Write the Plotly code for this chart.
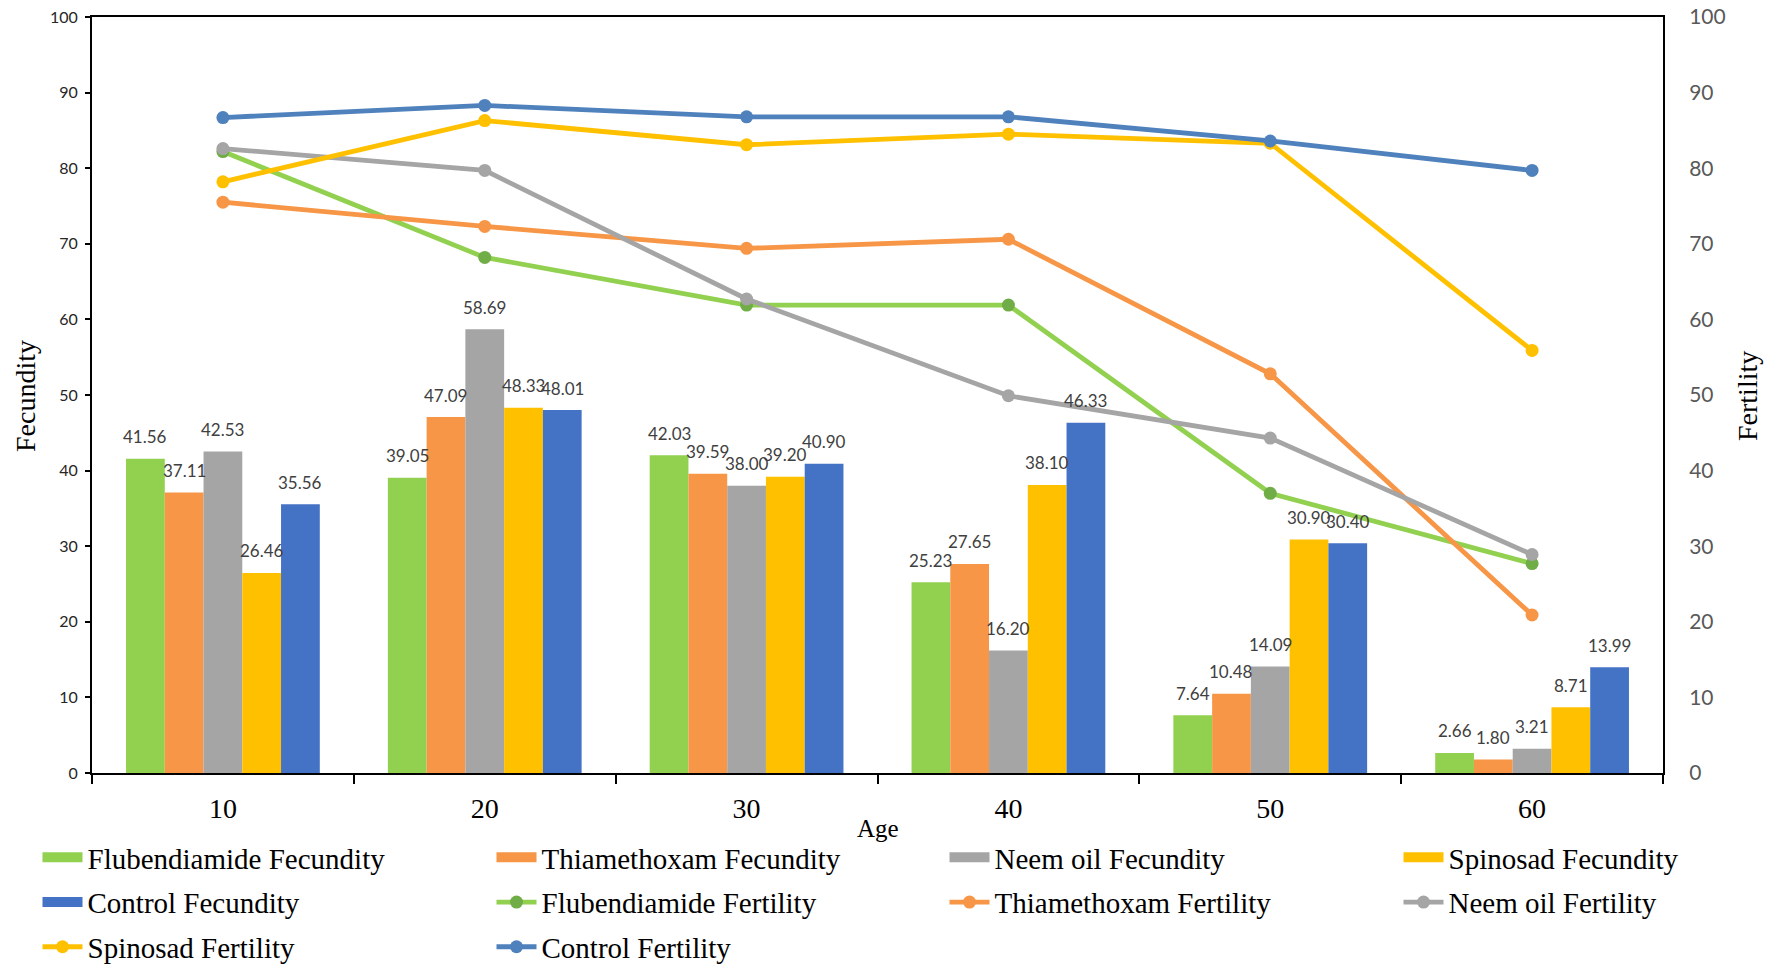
import plotly.graph_objects as go

# Ages (days) on the category axis
ages = ["10", "20", "30", "40", "50", "60"]

# Fecundity (bars, left axis)
flubendiamide_fecundity = [41.56, 39.05, 42.03, 25.23, 7.64, 2.66]
thiamethoxam_fecundity = [37.11, 47.09, 39.59, 27.65, 10.48, 1.80]
neem_oil_fecundity = [42.53, 58.69, 38.00, 16.20, 14.09, 3.21]
spinosad_fecundity = [26.46, 48.33, 39.20, 38.10, 30.90, 8.71]
control_fecundity = [35.56, 48.01, 40.90, 46.33, 30.40, 13.99]

# Fertility (lines, right axis)
flubendiamide_fertility = [82.2, 68.2, 61.9, 61.9, 37.0, 27.7]
thiamethoxam_fertility = [75.5, 72.3, 69.4, 70.6, 52.8, 20.9]
neem_oil_fertility = [82.6, 79.7, 62.7, 49.9, 44.3, 28.9]
spinosad_fertility = [78.2, 86.3, 83.1, 84.5, 83.3, 55.9]
control_fertility = [86.7, 88.3, 86.8, 86.8, 83.6, 79.7]

W, H = 1785, 967
M_L, M_R, M_T, M_B = 92, 122, 17, 194
PLOT_W = W - M_L - M_R
PLOT_H = H - M_T - M_B
BARGAP = 0.26


def px_x(x):
    """Pixel column -> paper x."""
    return (x - M_L) / PLOT_W


def px_y(y):
    """Pixel row (from top) -> paper y."""
    return (H - M_B - y) / PLOT_H


bar_series = [
    ("Flubendiamide Fecundity", flubendiamide_fecundity, "#92D050"),
    ("Thiamethoxam Fecundity", thiamethoxam_fecundity, "#F79646"),
    ("Neem oil Fecundity", neem_oil_fecundity, "#A5A5A5"),
    ("Spinosad Fecundity", spinosad_fecundity, "#FFC000"),
    ("Control Fecundity", control_fecundity, "#4472C4"),
]
line_series = [
    ("Flubendiamide Fertility", flubendiamide_fertility, "#92D050", "#70AD47"),
    ("Thiamethoxam Fertility", thiamethoxam_fertility, "#F79646", "#F79646"),
    ("Neem oil Fertility", neem_oil_fertility, "#A5A5A5", "#A5A5A5"),
    ("Spinosad Fertility", spinosad_fertility, "#FFC000", "#FFC000"),
    ("Control Fertility", control_fertility, "#4F81BD", "#4F81BD"),
]

# legend laid out in four columns, filled row by row
N_COLS = 4
legend_ids = ["legend", "legend2", "legend3", "legend4"]
col_text_x = [87, 541, 994, 1448]


def legend_for(k):
    return legend_ids[k % N_COLS]


fig = go.Figure()

k = 0
for name, vals, color in bar_series:
    fig.add_trace(go.Bar(
        x=ages, y=vals, name=name, marker=dict(color=color, line_width=0),
        showlegend=False, legendgroup=name, legend=legend_for(k),
    ))
    # wide swatch for the legend entry
    fig.add_trace(go.Scatter(
        x=[None], y=[None], name=name, mode="lines",
        line=dict(color=color, width=16), legendgroup=name, legend=legend_for(k),
    ))
    k += 1

for name, vals, lcolor, mcolor in line_series:
    fig.add_trace(go.Scatter(
        x=ages, y=vals, name=name, yaxis="y2", mode="lines+markers",
        line=dict(color=lcolor, width=4.8),
        marker=dict(color=mcolor, size=13),
        legendgroup=name, legend=legend_for(k),
    ))
    k += 1

# value labels above each bar in the group (category index on the x axis)
cat_px = PLOT_W / len(ages)
bar_px = cat_px * (1 - BARGAP) / len(bar_series)
annotations = []
for i, (name, vals, color) in enumerate(bar_series):
    dx = (i - (len(bar_series) - 1) / 2) * bar_px
    for j, v in enumerate(vals):
        annotations.append(dict(
            x=j, y=v, xref="x", yref="y", text=f"{v:.2f}", showarrow=False,
            xshift=dx, yshift=22,
            font=dict(family="Lato", size=17, color="#404040"),
        ))

serif = "Liberation Serif"
annotations += [
    dict(text="Age", xref="paper", yref="paper", x=px_x(878), y=px_y(828),
         showarrow=False, xanchor="center", yanchor="middle",
         font=dict(family=serif, size=25, color="black")),
    dict(text="Fecundity", xref="paper", yref="paper", x=px_x(25), y=px_y(396),
         showarrow=False, textangle=-90, xanchor="center", yanchor="middle",
         font=dict(family=serif, size=28, color="black")),
    dict(text="Fertility", xref="paper", yref="paper", x=px_x(1747), y=px_y(396),
         showarrow=False, textangle=-90, xanchor="center", yanchor="middle",
         font=dict(family=serif, size=28, color="black")),
]

legend_style = dict(
    orientation="v", xref="container", yref="container",
    yanchor="top", xanchor="left",
    font=dict(family=serif, size=29, color="black"),
    tracegroupgap=4, itemwidth=40, bgcolor="rgba(0,0,0,0)",
)
legends = {}
for lid, tx in zip(legend_ids, col_text_x):
    legends[lid] = dict(legend_style, x=(tx - 49.5) / W, y=1 - 832 / H)

fig.update_layout(
    width=W, height=H,
    margin=dict(l=M_L, r=M_R, t=M_T, b=M_B, autoexpand=False),
    paper_bgcolor="white", plot_bgcolor="white",
    barmode="group", bargap=BARGAP, bargroupgap=0,
    showlegend=True,
    xaxis=dict(
        type="category", showline=True, linecolor="black", linewidth=2, mirror=True,
        ticks="outside", tickson="boundaries", ticklen=9, tickwidth=2, tickcolor="black",
        tickfont=dict(family=serif, size=28, color="black"), ticklabelstandoff=9,
        tickangle=0, showgrid=False, zeroline=False, automargin=False,
    ),
    yaxis=dict(
        range=[0, 100], dtick=10, showline=True, linecolor="black", linewidth=2,
        ticks="outside", ticklen=5, tickcolor="black", tickwidth=1.5,
        tickfont=dict(family="Lato", size=16, color="#262626"), ticklabelstandoff=4,
        showgrid=False, zeroline=False, automargin=False,
    ),
    yaxis2=dict(
        range=[0, 100], dtick=10, overlaying="y", side="right",
        showline=True, linecolor="black", linewidth=2, ticks="",
        tickfont=dict(family="Lato", size=21, color="#595959"), ticklabelstandoff=20,
        showgrid=False, zeroline=False, automargin=False,
    ),
    annotations=annotations,
    **legends,
)

fig.write_html("out.html")
